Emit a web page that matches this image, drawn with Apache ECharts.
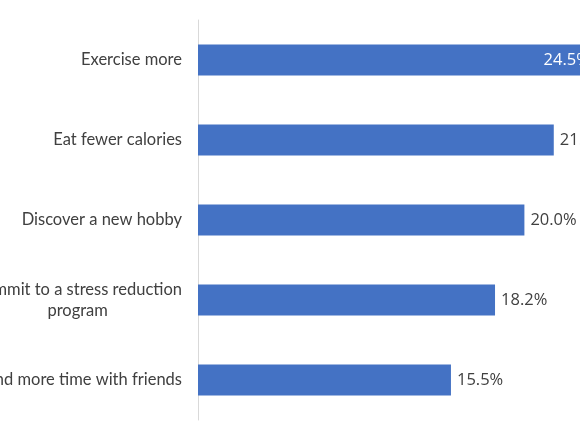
<!DOCTYPE html>
<html>
<head>
<meta charset="utf-8">
<script src="https://cdn.jsdelivr.net/npm/echarts@6/dist/echarts.min.js"></script>
<style>
  html, body { margin: 0; padding: 0; background: #fff; }
  #chart { width: 580px; height: 435px; }
</style>
</head>
<body>
<div id="chart"></div>
<script>
// data
var categories = [
  'Exercise more',
  'Eat fewer calories',
  'Discover a new hobby',
  'Commit to a stress reduction\nprogram',
  'Spend more time with friends'
];
var values = [24.5, 21.8, 20.0, 18.2, 15.5];
// the biggest bar runs off the edge, so its label sits inside in white
var insideLabel = [true, false, false, false, false];

var myChart = echarts.init(document.getElementById('chart'));

var barData = values.map(function (v, i) {
  var item = { value: v };
  if (insideLabel[i]) {
    item.label = { position: 'insideRight', distance: 8, color: '#ffffff' };
  }
  return item;
});

var option = {
  animation: false,
  grid: {
    left: 198, top: 20, width: 408, height: 400,
    containLabel: false,
    outerBoundsMode: 'none'
  },
  xAxis: {
    type: 'value',
    min: 0,
    max: 25,
    show: false,
    splitLine: { show: false }
  },
  yAxis: {
    type: 'category',
    inverse: true,
    data: categories,
    axisLine: { show: true, lineStyle: { color: '#d9d9d9', width: 1 } },
    axisTick: { show: false },
    axisLabel: {
      margin: 16,
      color: '#404040',
      fontFamily: 'Lato',
      fontSize: 16.5,
      lineHeight: 21,
      formatter: function (value) {
        return value.split('\n').map(function (s) {
          return '{c|' + s + '}';
        }).join('\n');
      },
      rich: {
        c: { align: 'center', color: '#404040', fontFamily: 'Lato', fontSize: 16.5, lineHeight: 21 }
      }
    }
  },
  series: [{
    type: 'bar',
    data: barData,
    barWidth: 31,
    itemStyle: { color: '#4472C4' },
    label: {
      show: true,
      position: 'right',
      distance: 6,
      color: '#404040',
      fontFamily: 'Open Sans',
      fontSize: 16.5,
      formatter: function (p) { return p.value.toFixed(1) + '%'; }
    }
  }]
};
myChart.setOption(option);
</script>
</body>
</html>
